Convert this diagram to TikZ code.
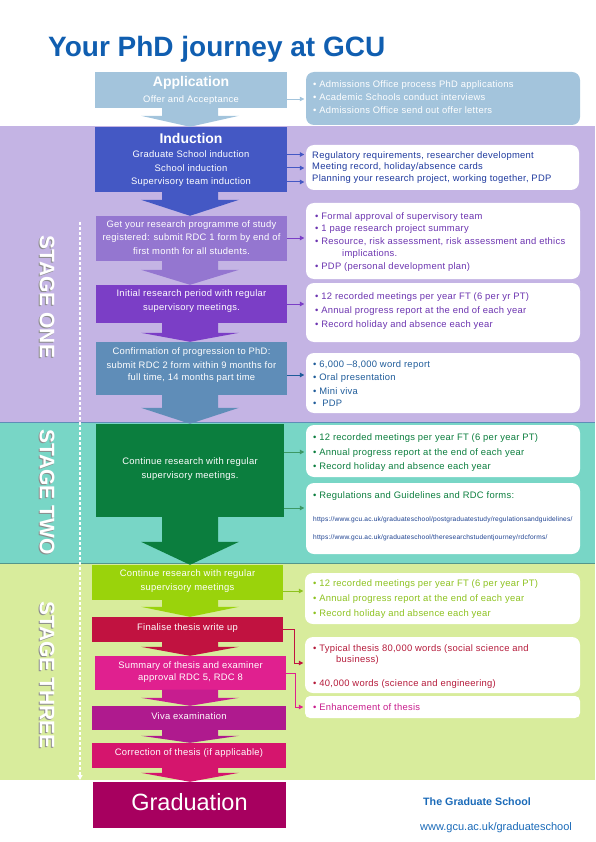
\documentclass[tikz,border=0pt]{standalone}
\usepackage{fontspec}
\setmainfont{Liberation Sans}
\usetikzlibrary{arrows.meta,calc}
\definecolor{titleblue}{RGB}{16,94,176}
\definecolor{appc}{RGB}{163,196,220}
\definecolor{bandone}{RGB}{196,180,228}
\definecolor{bandtwo}{RGB}{120,214,198}
\definecolor{bandthree}{RGB}{216,236,156}
\definecolor{indc}{RGB}{68,88,196}
\definecolor{rdcc}{RGB}{148,118,208}
\definecolor{initc}{RGB}{123,62,198}
\definecolor{confc}{RGB}{95,141,184}
\definecolor{greenc}{RGB}{11,126,62}
\definecolor{limec}{RGB}{154,211,11}
\definecolor{finc}{RGB}{193,18,64}
\definecolor{sumc}{RGB}{224,32,143}
\definecolor{vivac}{RGB}{175,26,142}
\definecolor{corc}{RGB}{213,21,109}
\definecolor{gradc}{RGB}{167,0,95}
\definecolor{indtext}{RGB}{31,58,158}
\definecolor{purtext}{RGB}{108,52,176}
\definecolor{conftext}{RGB}{31,92,154}
\definecolor{urltext}{RGB}{26,63,143}
\definecolor{limetext}{RGB}{141,194,31}
\definecolor{fintext}{RGB}{181,26,58}
\definecolor{enhtext}{RGB}{200,28,140}
\definecolor{foottext}{RGB}{26,106,184}
\newcommand\fs[1]{\fontsize{#1}{#1}\selectfont}
\newcommand\sfs[1]{\fontsize{#1}{#1}\selectfont\addfontfeatures{LetterSpace=3}}
\newcommand\barrow[4]{%
  \fill[#1] let \p1=(#2.south), \p2=(#3.north) in
  (162pt,{\y1+0.5pt}) -- (218pt,{\y1+0.5pt}) -- (218pt,{\y2+#4pt}) -- (239pt,{\y2+#4pt})
  -- (190pt,\y2) -- (141pt,{\y2+#4pt}) -- (162pt,{\y2+#4pt}) -- cycle;}
\begin{document}
\begin{tikzpicture}[x=1pt,y=-1pt,
  cbox/.style={draw=none,inner sep=0,minimum width=192},
  ibox/.style={draw=none,fill=white,rounded corners=8pt,inner sep=0,minimum width=274},
  ctext/.style={text=white,inner sep=0,font=\sfs{9.4}},
  itext/.style={anchor=west,inner sep=0,font=\sfs{9.4}},
  conn/.style={line width=1pt,shorten >=1.5pt,-{Triangle[length=4.5pt,width=4.5pt]}},
  stagelab/.style={font=\bfseries\fs{21},inner sep=0,rotate=-90}]
\useasboundingbox (0,0) rectangle (595,842);
% bands
\fill[bandone] (0,126) rectangle (595,422);
\fill[bandtwo] (0,422) rectangle (595,563);
\fill[bandthree] (0,563) rectangle (595,780);
\draw[confc,line width=0.8pt] (0,422) -- (595,422);
\draw[bandtwo!70!black,line width=0.5pt] (0,563) -- (595,563);
% title
\node[font=\bfseries\fs{28},text=titleblue,anchor=base west,inner sep=0] (title) at (48,57) {Your PhD journey at GCU};
% stage labels
\coordinate (dtop) at (80,222);
\coordinate (dbot) at (80,780);
\draw[white,line width=1.2pt,dash pattern=on 3pt off 2pt,-{Triangle[length=5pt,width=5pt]}] (dtop) -- (dbot);
\foreach \t/\yy/\nm in {STAGE ONE/297/s1,STAGE TWO/492/s2,STAGE THREE/675/s3}{
  \node[stagelab,text=black!45] at (46,\yy+1) {\t};
  \node[stagelab,text=white] (\nm) at (47,\yy) {\t};
}
% central boxes
\node[cbox,fill=appc,minimum height=36] (app) at (191,90) {};
\node[cbox,fill=indc,minimum height=65] (ind) at (191,159.5) {};
\node[cbox,fill=rdcc,minimum width=191,minimum height=45] (rdc) at (191.5,238.5) {};
\node[cbox,fill=initc,minimum width=191,minimum height=38] (init) at (191.5,304) {};
\node[cbox,fill=confc,minimum width=191,minimum height=53] (conf) at (191.5,368.5) {};
\node[cbox,fill=greenc,minimum width=188,minimum height=93] (cont) at (190,470.5) {};
\node[cbox,fill=limec,minimum width=191,minimum height=35] (lime) at (187.5,582.5) {};
\node[cbox,fill=finc,minimum width=191,minimum height=25] (fin) at (187.5,629.5) {};
\node[cbox,fill=sumc,minimum width=191,minimum height=34] (sum) at (190.5,673) {};
\node[cbox,fill=vivac,minimum width=194,minimum height=24] (viva) at (189,718) {};
\node[cbox,fill=corc,minimum width=194,minimum height=25] (cor) at (189,755.5) {};
\node[cbox,fill=gradc,minimum width=193,minimum height=46] (grad) at (189.5,805) {};
% block arrows
\barrow{appc}{app}{ind}{11}
\barrow{indc}{ind}{rdc}{16}
\barrow{rdcc}{rdc}{init}{15}
\barrow{initc}{init}{conf}{9}
\barrow{confc}{conf}{cont}{16}
\barrow{greenc}{cont}{lime}{23}
\barrow{limec}{lime}{fin}{10}
\barrow{finc}{fin}{sum}{9}
\barrow{sumc!50!vivac}{sum}{viva}{8}
\barrow{vivac}{viva}{cor}{7}
\barrow{corc}{cor}{grad}{9}
% central texts
\node[ctext,font=\bfseries\fs{14}] (appt) at (191,83) {Application};
\node[ctext] (appt2) at (191,100) {Offer and Acceptance};
\node[ctext,font=\bfseries\fs{14}] (indt) at (191,138) {Induction};
\node[ctext] (ind1) at (191,154.5) {Graduate School induction};
\node[ctext] (ind2) at (191,168) {School induction};
\node[ctext] (ind3) at (191,182) {Supervisory team induction};
\node[ctext] (rdc1) at (191.5,225) {Get your research programme of study};
\node[ctext] (rdc2) at (191.5,238) {registered: submit RDC 1 form by end of};
\node[ctext] (rdc3) at (191.5,251) {first month for all students.};
\node[ctext] (ini1) at (191.5,294) {Initial research period with regular};
\node[ctext] (ini2) at (191.5,308) {supervisory meetings.};
\node[ctext] (con1) at (191.5,352) {Confirmation of progression to PhD:};
\node[ctext] (con2) at (191.5,365) {submit RDC 2 form within 9 months for};
\node[ctext] (con3) at (191.5,378) {full time, 14 months part time};
\node[ctext] (cnt1) at (190,462) {Continue research with regular};
\node[ctext] (cnt2) at (190,476) {supervisory meetings.};
\node[ctext] (lim1) at (187.5,574) {Continue research with regular};
\node[ctext] (lim2) at (187.5,588) {supervisory meetings};
\node[ctext] (fint) at (187.5,628) {Finalise thesis write up};
\node[ctext] (sum1) at (190.5,666) {Summary of thesis and examiner};
\node[ctext] (sum2) at (190.5,678) {approval RDC 5, RDC 8};
\node[ctext] (vivt) at (189,716) {Viva examination};
\node[ctext] (cort) at (189,753) {Correction of thesis (if applicable)};
\node[ctext,font=\fs{23.5}] (gradt) at (189.5,802) {Graduation};
% info boxes
\node[ibox,fill=appc,minimum height=53] (appi) at (443,98.5) {};
\node[ibox,minimum width=273,minimum height=45] (indi) at (442.5,167.5) {};
\node[ibox,minimum height=76] (rdci) at (443,241) {};
\node[ibox,minimum height=59] (inii) at (443,312.5) {};
\node[ibox,minimum height=60] (coni) at (443,383) {};
\node[ibox,minimum height=52] (cnti) at (443,451) {};
\node[ibox,minimum height=71] (regi) at (443,518.5) {};
\node[ibox,minimum width=275,minimum height=51] (limi) at (442.5,598.5) {};
\node[ibox,minimum width=275,minimum height=56] (thi) at (442.5,665) {};
\node[ibox,minimum width=275,minimum height=22,rounded corners=5pt] (enh) at (442.5,707) {};
% info texts
\begin{scope}[every node/.style={itext}]
\node[text=white] (a1) at (313,85) {• Admissions Office process PhD applications};
\node[text=white] (a2) at (313,97.5) {• Academic Schools conduct interviews};
\node[text=white] (a3) at (313,110) {• Admissions Office send out offer letters};
\node[text=indtext] (i1) at (312,156) {Regulatory requirements, researcher development};
\node[text=indtext] (i2) at (312,167.5) {Meeting record, holiday/absence cards};
\node[text=indtext] (i3) at (312,179) {Planning your research project, working together, PDP};
\node[text=purtext] (r1) at (315,217) {• Formal approval of supervisory team};
\node[text=purtext] (r2) at (315,229) {• 1 page research project summary};
\node[text=purtext] (r3) at (315,242) {• Resource, risk assessment, risk assessment and ethics};
\node[text=purtext] (r4) at (342,254) {implications.};
\node[text=purtext] (r5) at (315,267) {• PDP (personal development plan)};
\node[text=purtext] (n1) at (315,297) {• 12 recorded meetings per year FT (6 per yr PT)};
\node[text=purtext] (n2) at (315,311) {• Annual progress report at the end of each year};
\node[text=purtext] (n3) at (315,325) {• Record holiday and absence each year};
\node[text=conftext] (c1) at (313,365) {• 6,000 –8,000 word report};
\node[text=conftext] (c2) at (313,378) {• Oral presentation};
\node[text=conftext] (c3) at (313,391) {• Mini viva};
\node[text=conftext] (c4) at (313,403) {•\ \ PDP};
\node[text=greenc] (g1) at (313,438) {• 12 recorded meetings per year FT (6 per year PT)};
\node[text=greenc] (g2) at (313,453) {• Annual progress report at the end of each year};
\node[text=greenc] (g3) at (313,467) {• Record holiday and absence each year};
\node[text=greenc] (g4) at (313,496) {• Regulations and Guidelines and RDC forms:};
\node[text=urltext,font=\sfs{6.6}] (u1) at (313,520) {https://www.gcu.ac.uk/graduateschool/postgraduatestudy/regulationsandguidelines/};
\node[text=urltext,font=\sfs{6.6}] (u2) at (313,538) {https://www.gcu.ac.uk/graduateschool/theresearchstudentjourney/rdcforms/};
\node[text=limetext] (l1) at (313,584) {• 12 recorded meetings per year FT (6 per year PT)};
\node[text=limetext] (l2) at (313,599) {• Annual progress report at the end of each year};
\node[text=limetext] (l3) at (313,614) {• Record holiday and absence each year};
\node[text=fintext] (t1) at (313,649) {• Typical thesis 80,000 words (social science and};
\node[text=fintext] (t2) at (336,660) {business)};
\node[text=fintext] (t3) at (313,684) {• 40,000 words (science and engineering)};
\node[text=enhtext] (e1) at (313,707) {• Enhancement of thesis};
\end{scope}
% connectors
\coordinate (appy) at (0,99);
\draw[conn,appc,line width=0.7pt] (app.east |- appy) -- (appi.west |- appy);
\draw[conn,indc] (ind.east |- ind1) -- (indi.west |- ind1);
\draw[conn,indc] (ind.east |- ind2) -- (indi.west |- ind2);
\draw[conn,indc] (ind.east |- ind3) -- (indi.west |- ind3);
\draw[conn,initc] (rdc.east |- rdc2) -- (rdci.west |- rdc2);
\draw[conn,initc] (init.east) -- (inii.west |- init.east);
\coordinate (cony) at (0,375);
\draw[conn,conftext] (conf.east |- cony) -- (coni.west |- cony);
\coordinate (g1y) at (0,452);
\coordinate (g2y) at (0,508);
\draw[conn,greenc!80!white] (cont.east |- g1y) -- (cnti.west |- g1y);
\draw[conn,greenc!80!white] (cont.east |- g2y) -- (regi.west |- g2y);
\coordinate (ly) at (0,591);
\draw[conn,limetext] (lime.east |- ly) -- (limi.west |- ly);
\coordinate (thy) at (0,663);
\draw[conn,finc] (fin.east) -- ++(11,0) |- (thi.west |- thy);
\draw[conn,sumc] (sum.east) -- ++(9,0) |- (enh.west);
% footer
\node[font=\bfseries\fs{10.7},text=foottext,anchor=west,inner sep=0] (gs) at (423,802) {The Graduate School};
\node[font=\fs{11},text=foottext,anchor=west,inner sep=0] (web) at (420,828) {www.gcu.ac.uk/graduateschool};
\end{tikzpicture}
\end{document}
